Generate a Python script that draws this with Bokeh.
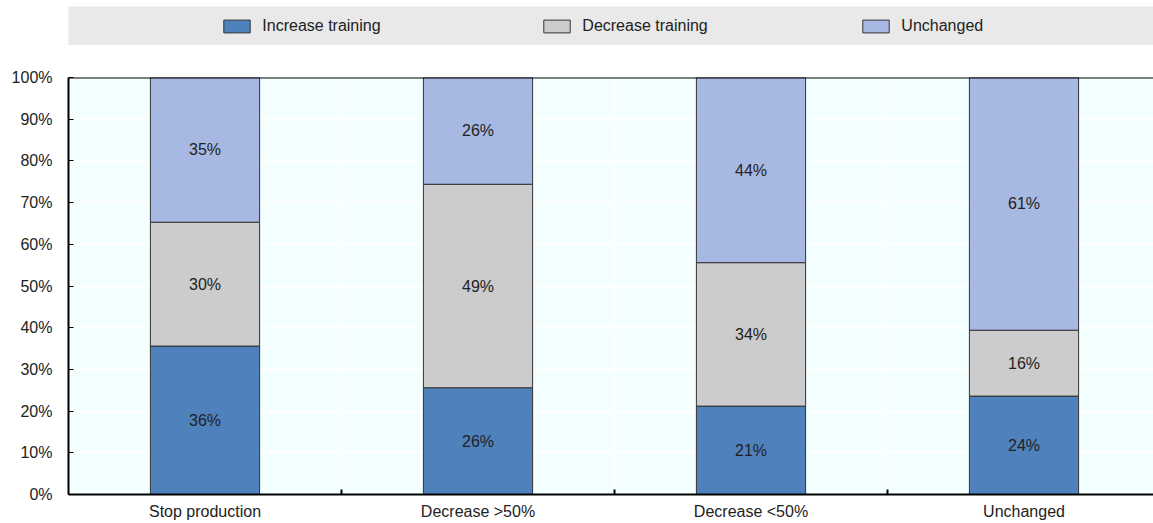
from bokeh.plotting import figure
from bokeh.models import (ColumnDataSource, FixedTicker, PrintfTickFormatter, Span,
                          Legend, LegendItem, LabelSet)
from bokeh.core.properties import value
from bokeh.layouts import column
from bokeh.embed import file_html
from bokeh.resources import INLINE

categories = ["Stop production", "Decrease >50%", "Decrease <50%", "Unchanged"]
series_names = ["Increase training", "Decrease training", "Unchanged"]
increase = [35.6, 25.6, 21.2, 23.6]
decrease = [29.7, 48.8, 34.4, 15.8]
unchanged = [34.7, 25.6, 44.4, 60.6]
colors = ["#4F81BD", "#CCCCCC", "#A7B9E3"]

FONT = "Liberation Sans"
TXT = "#222222"

xpos = [i + 0.5 for i in range(len(categories))]
series = [increase, decrease, unchanged]

p = figure(frame_width=1085, frame_height=417, x_range=(0, 1085 / 273), y_range=(0, 100),
           output_backend="svg", toolbar_location=None,
           min_border_left=68, min_border_right=0, min_border_top=32, min_border_bottom=29,
           background_fill_color="#F4FFFF", border_fill_color="white", outline_line_color=None)

bottom = [0.0] * len(categories)
for vals, col in zip(series, colors):
    top = [b + v for b, v in zip(bottom, vals)]
    mid = [(b + t) / 2 for b, t in zip(bottom, top)]
    src = ColumnDataSource(dict(x=xpos, bottom=bottom, top=top, mid=mid,
                                lab=[f"{v:.0f}%" for v in vals]))
    p.vbar(x="x", bottom="bottom", top="top", width=0.40, source=src,
           fill_color=col, line_color="#333333", line_width=1)
    p.add_layout(LabelSet(x="x", y="mid", text="lab", source=src, text_align="center",
                          text_baseline="middle", text_font=value(FONT),
                          text_font_size="16px", text_color=TXT))
    bottom = top

# grid
p.ygrid.ticker = FixedTicker(ticks=list(range(0, 101, 10)))
p.ygrid.grid_line_color = "white"
p.ygrid.grid_line_width = 2
p.xgrid.ticker = FixedTicker(ticks=[1, 2, 3])
p.xgrid.grid_line_color = "white"
p.xgrid.grid_line_width = 2

# axes
p.yaxis.ticker = FixedTicker(ticks=list(range(0, 101, 10)))
p.yaxis.formatter = PrintfTickFormatter(format="%d%%")
p.yaxis.axis_line_color = "black"
p.yaxis.axis_line_width = 2
p.yaxis.major_tick_in = 5
p.yaxis.major_tick_out = 0
p.yaxis.major_tick_line_color = "black"
p.yaxis.minor_tick_line_color = None
p.yaxis.major_label_standoff = 16
p.yaxis.major_label_text_font = FONT
p.yaxis.major_label_text_font_size = "16px"
p.yaxis.major_label_text_color = TXT

p.xaxis.ticker = FixedTicker(ticks=xpos, minor_ticks=[1, 2, 3])
p.xaxis.major_label_overrides = {x: c for x, c in zip(xpos, categories)}
p.xaxis.axis_line_color = "black"
p.xaxis.axis_line_width = 2
p.xaxis.major_tick_line_color = None
p.xaxis.major_tick_in = 0
p.xaxis.major_tick_out = 0
p.xaxis.minor_tick_in = 5
p.xaxis.minor_tick_out = 0
p.xaxis.minor_tick_line_color = "black"
p.xaxis.minor_tick_line_width = 2
p.xaxis.major_label_standoff = 8
p.xaxis.major_label_text_font = FONT
p.xaxis.major_label_text_font_size = "16px"
p.xaxis.major_label_text_color = TXT

p.add_layout(Span(location=100, dimension="width", line_color="black", line_width=2))

# legend band
lg = figure(frame_width=1086, frame_height=39, x_range=(0, 1), y_range=(0, 1),
            output_backend="svg", toolbar_location=None,
            min_border_left=67, min_border_right=0, min_border_top=6, min_border_bottom=0,
            background_fill_color="#E9E9E9", border_fill_color="white", outline_line_color=None)
lg.xaxis.visible = False
lg.yaxis.visible = False
lg.xgrid.visible = False
lg.ygrid.visible = False
offsets = [198, 518, 837]
for name, col, off in zip(series_names, colors, offsets):
    r = lg.vbar(x=[float("nan")], top=[float("nan")], width=0.1,
                fill_color=col, line_color="#333333", line_width=1)
    leg = Legend(items=[LegendItem(label=name, renderers=[r])], location=(off, 10),
                 orientation="horizontal", padding=0, margin=0, border_line_color=None,
                 background_fill_alpha=0, glyph_width=33, glyph_height=16, label_standoff=9,
                 label_text_font=FONT, label_text_font_size="16px", label_text_color=TXT,
                 label_height=16)
    lg.add_layout(leg)

layout = column(lg, p, spacing=0)
open("out.html", "w").write(file_html(layout, INLINE))
